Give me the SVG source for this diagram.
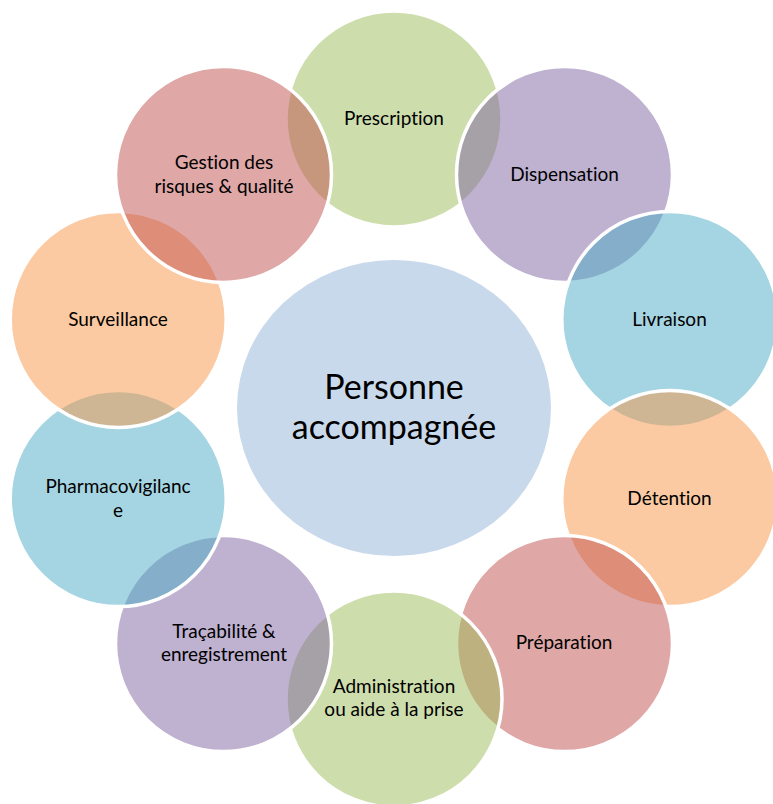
<svg xmlns="http://www.w3.org/2000/svg" width="773" height="804" viewBox="0 0 773 804">
<style>
.n{stroke:#FFFFFF;stroke-width:3.5}
.red{fill:#C0504D;fill-opacity:0.5}
.green{fill:#9BBB59;fill-opacity:0.5}
.purple{fill:#8064A2;fill-opacity:0.5}
.aqua{fill:#4BACC6;fill-opacity:0.5}
.orange{fill:#F79646;fill-opacity:0.5}
.center{fill:#C9D9EC}
text{font-family:Lato,"Liberation Sans",sans-serif;font-size:19px;fill:#000000;text-anchor:middle;font-variant-ligatures:none;font-feature-settings:"liga" 0}
.big{font-size:34px}
</style>
<rect width="773" height="804" fill="#FFFFFF"/>
<g id="center">
<ellipse cx="394" cy="408" rx="157" ry="148" class="center"/>
<text class="big" x="394" y="399">Personne</text>
<text class="big" x="394" y="439">accompagnée</text>
</g>
<g id="prescription"><circle cx="394" cy="119" r="108" class="n green"/></g>
<g id="dispensation"><circle cx="564.5" cy="174.4" r="108" class="n purple"/></g>
<g id="livraison"><circle cx="669.8" cy="319.4" r="108" class="n aqua"/></g>
<g id="detention"><circle cx="669.8" cy="498.6" r="108" class="n orange"/></g>
<g id="preparation"><circle cx="564.5" cy="643.6" r="108" class="n red"/></g>
<g id="administration"><circle cx="394" cy="699" r="108" class="n green"/></g>
<g id="tracabilite"><circle cx="223.5" cy="643.6" r="108" class="n purple"/></g>
<g id="pharmacovigilance"><circle cx="118.2" cy="498.6" r="108" class="n aqua"/></g>
<g id="surveillance"><circle cx="118.2" cy="319.4" r="108" class="n orange"/></g>
<g id="gestion"><circle cx="223.5" cy="174.4" r="108" class="n red"/></g>
<g id="labels">
<text x="394" y="125">Prescription</text>
<text x="564.5" y="181">Dispensation</text>
<text x="669.5" y="326">Livraison</text>
<text x="669.5" y="505">Détention</text>
<text x="564" y="649">Préparation</text>
<text x="394" y="693">Administration</text>
<text x="394" y="716">ou aide à la prise</text>
<text x="224" y="638">Traçabilité &amp;</text>
<text x="224" y="661">enregistrement</text>
<text x="118" y="493">Pharmacovigilanc</text>
<text x="118" y="517">e</text>
<text x="118" y="326">Surveillance</text>
<text x="224" y="169">Gestion des</text>
<text x="224" y="193">risques &amp; qualité</text>
</g>
<g id="connectors"/>
</svg>
